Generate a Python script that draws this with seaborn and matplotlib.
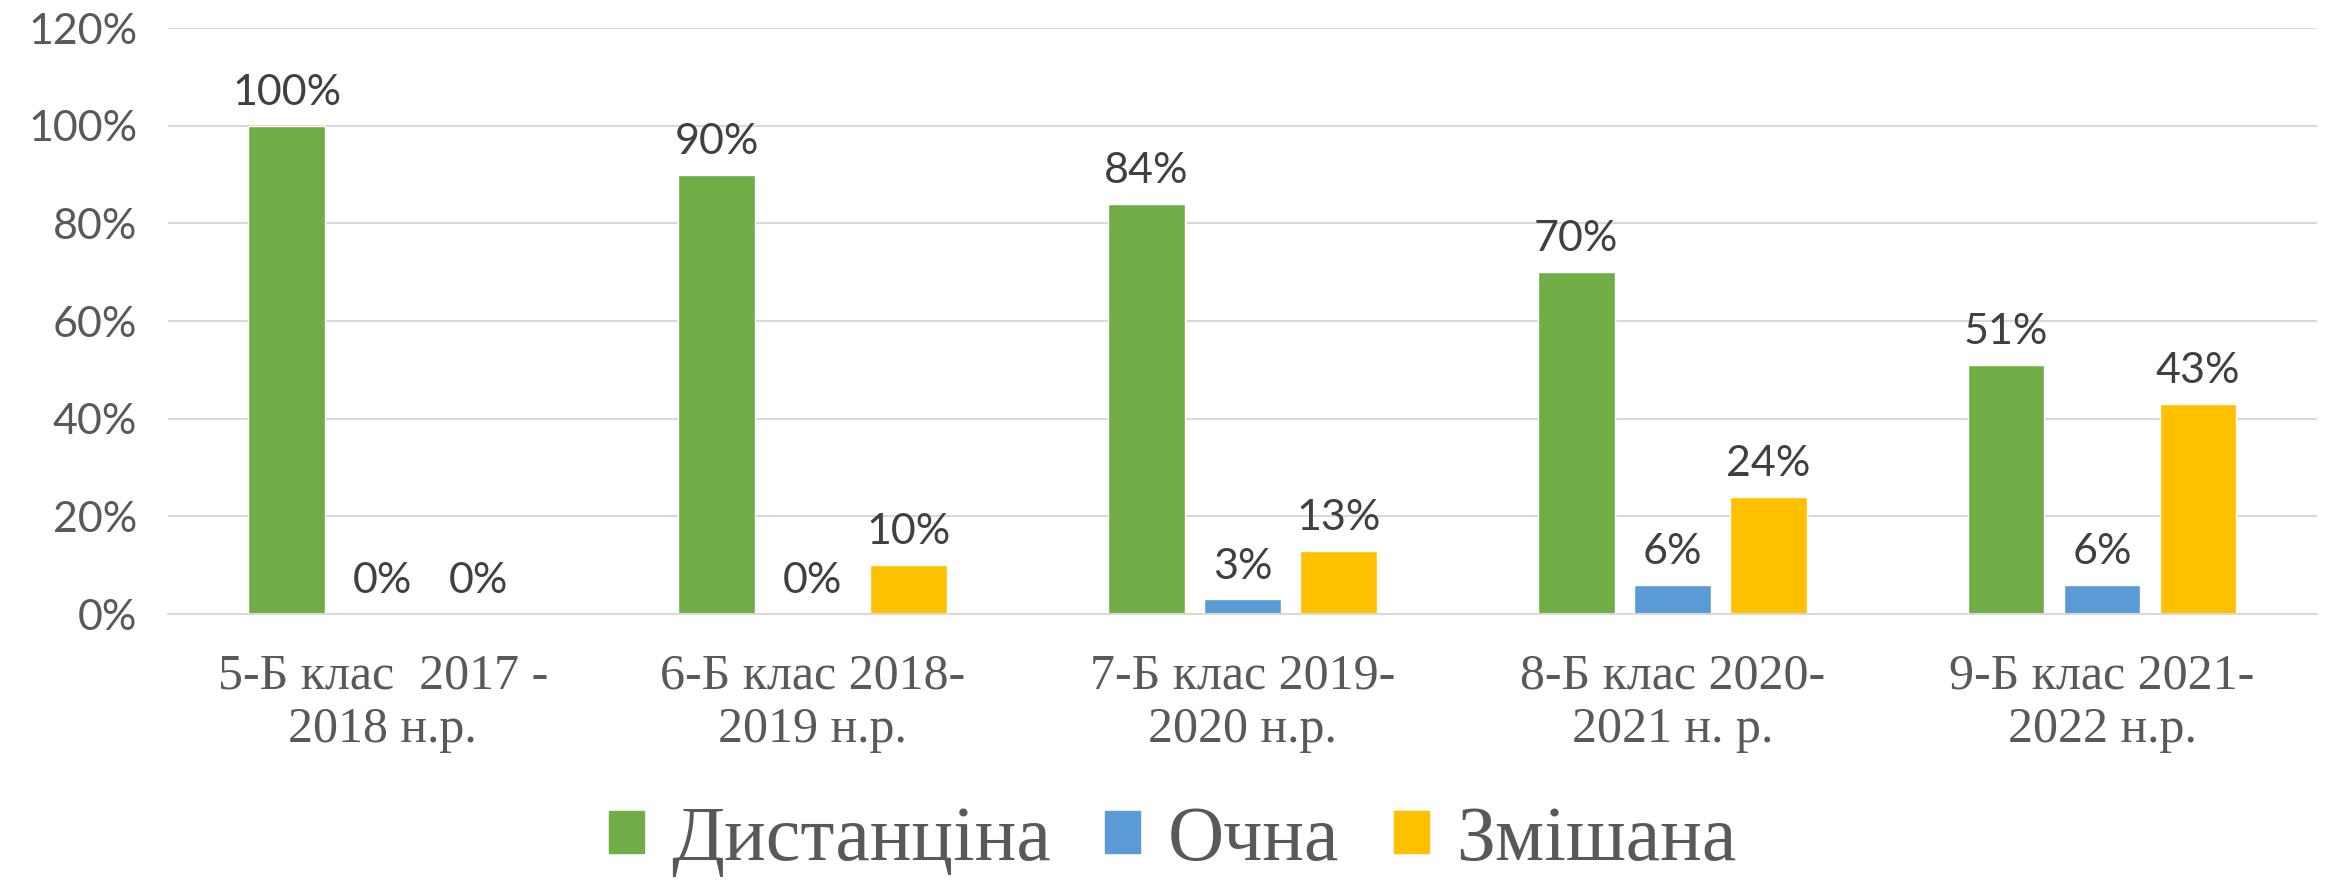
import matplotlib
matplotlib.use("Agg")
import matplotlib.pyplot as plt
import pandas as pd
import seaborn as sns

# Chart data
categories = [
    "5-Б клас  2017 -\n2018 н.р.",
    "6-Б клас 2018-\n2019 н.р.",
    "7-Б клас 2019-\n2020 н.р.",
    "8-Б клас 2020-\n2021 н. р.",
    "9-Б клас 2021-\n2022 н.р.",
]
series = ["Дистанціна", "Очна", "Змішана"]
distance = [100, 90, 84, 70, 51]
in_person = [0, 0, 3, 6, 6]
mixed = [0, 10, 13, 24, 43]
y_ticks = [0, 20, 40, 60, 80, 100, 120]

colors = ["#70AD47", "#5B9BD5", "#FFC000"]

rows = []
for name, vals in zip(series, [distance, in_person, mixed]):
    for cat, v in zip(categories, vals):
        rows.append({"category": cat, "series": name, "value": v})
df = pd.DataFrame(rows)

sns.set_style("white")
fig = plt.figure(figsize=(23.31, 8.81), dpi=100)
ax = fig.add_axes([0.072, 0.303, 0.922, 0.665])

sns.barplot(
    data=df, x="category", y="value", hue="series", hue_order=series,
    palette=colors, width=0.67, gap=0.2, saturation=1, ax=ax,
    errorbar=None, legend=False,
)

sans = "Lato"
serif = "Liberation Serif"
text_col = "#595959"

for cont in ax.containers:
    vals = [int(round(b.get_height())) for b in cont]
    ax.bar_label(cont, labels=[f"{v}%" for v in vals], padding=10,
                 fontsize=31, color="#404040", family=sans)

ax.set_ylim(0, 120)
ax.set_yticks(y_ticks)
ax.set_yticklabels([f"{t}%" for t in y_ticks], fontsize=31, color=text_col, family=sans)
ax.set_xlim(-0.5, len(categories) - 0.5)
ax.set_xticks(range(len(categories)))
ax.set_xticklabels(categories, fontsize=36, color=text_col, family=serif,
                   linespacing=1.2)
ax.tick_params(axis="x", length=0, pad=28)
ax.tick_params(axis="y", length=0, pad=22)
ax.set_xlabel("")
ax.set_ylabel("")

ax.grid(axis="y", color="#D9D9D9", linewidth=1.5)
ax.set_axisbelow(True)
for s in ["top", "right", "left"]:
    ax.spines[s].set_visible(False)
ax.spines["bottom"].set_color("#D9D9D9")
ax.spines["bottom"].set_linewidth(1.5)

handles = [plt.Rectangle((0, 0), 1, 1, color=c) for c in colors]
fig.legend(handles, series, loc="center", bbox_to_anchor=(0.503, 0.045),
           ncol=3, frameon=False, prop={"family": serif, "size": 56},
           handlelength=0.45, handleheight=0.45, handletextpad=0.35,
           columnspacing=0.7, labelcolor=text_col)

fig.savefig("out.png", dpi=100)
